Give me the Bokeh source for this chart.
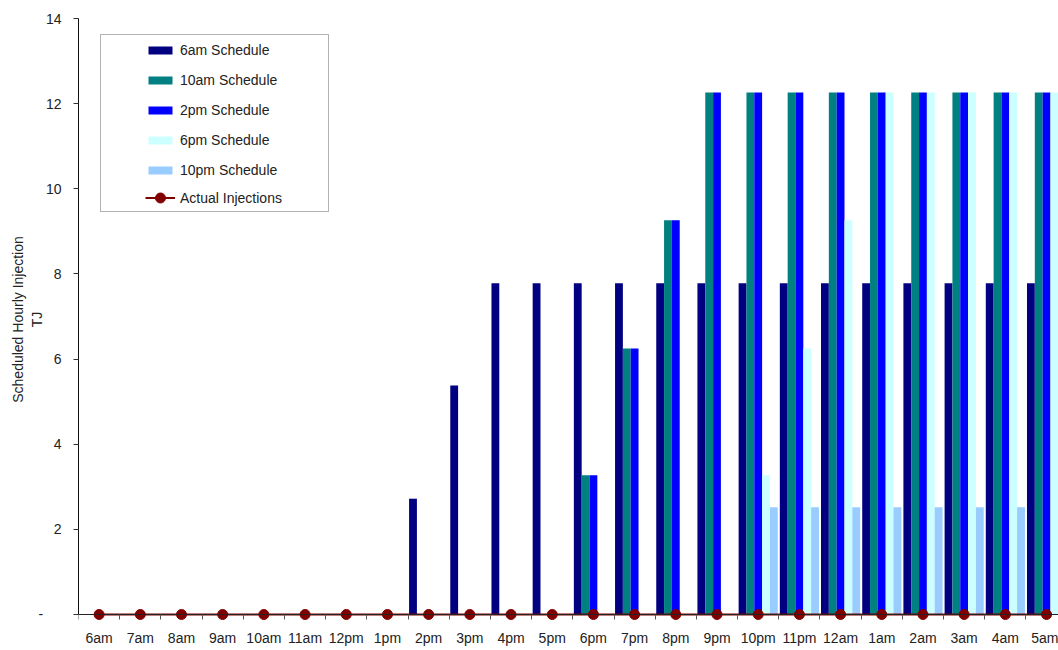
from bokeh.plotting import figure
from bokeh.models import (ColumnDataSource, FixedTicker, Range1d, Legend,
                          LegendItem, BoxAnnotation, LinearAxis)
from bokeh.transform import dodge
from bokeh.embed import file_html
from bokeh.resources import INLINE

# Hourly periods of the gas day
hours = ["6am", "7am", "8am", "9am", "10am", "11am", "12pm", "1pm", "2pm", "3pm",
         "4pm", "5pm", "6pm", "7pm", "8pm", "9pm", "10pm", "11pm", "12am", "1am",
         "2am", "3am", "4am", "5am"]

# Scheduled hourly injection (TJ) for each schedule run
sched_6am = [0, 0, 0, 0, 0, 0, 0, 0, 2.72, 5.38,
             7.78, 7.78, 7.78, 7.78, 7.78, 7.78, 7.78, 7.78, 7.78, 7.78,
             7.78, 7.78, 7.78, 7.78]
sched_10am = [0, 0, 0, 0, 0, 0, 0, 0, 0, 0,
              0, 0, 3.27, 6.25, 9.26, 12.26, 12.26, 12.26, 12.26, 12.26,
              12.26, 12.26, 12.26, 12.26]
sched_2pm = [0, 0, 0, 0, 0, 0, 0, 0, 0, 0,
             0, 0, 3.27, 6.25, 9.26, 12.26, 12.26, 12.26, 12.26, 12.26,
             12.26, 12.26, 12.26, 12.26]
sched_6pm = [0, 0, 0, 0, 0, 0, 0, 0, 0, 0,
             0, 0, 0, 0, 0, 0, 3.27, 6.25, 9.26, 12.26,
             12.26, 12.26, 12.26, 12.26]
sched_10pm = [0, 0, 0, 0, 0, 0, 0, 0, 0, 0,
              0, 0, 0, 0, 0, 0, 2.52, 2.52, 2.52, 2.52,
              2.52, 2.52, 2.52, 2.52]
actual = [0, 0, 0, 0, 0, 0, 0, 0, 0, 0,
          0, 0, 0, 0, 0, 0, 0, 0, 0, 0,
          0, 0, 0, 0]

y_ticks = [0, 2, 4, 6, 8, 10, 12, 14]

series = [
    ("s6am", sched_6am, "6am Schedule", "#000080"),
    ("s10am", sched_10am, "10am Schedule", "#008080"),
    ("s2pm", sched_2pm, "2pm Schedule", "#0000FF"),
    ("s6pm", sched_6pm, "6pm Schedule", "#CCFFFF"),
    ("s10pm", sched_10pm, "10pm Schedule", "#99CCFF"),
]

FONT = "Liberation Sans"
FSIZE = "14px"
TEXT_COLOR = "#222222"

centers = [i + 0.5 for i in range(len(hours))]
data = dict(x=centers, actual=actual)
for key, vals, _, _ in series:
    data[key] = vals
src = ColumnDataSource(data)

# y range dips slightly below zero so the zero-line markers are not clipped
p = figure(width=1058, height=650,
           x_range=Range1d(0, 23.79), y_range=Range1d(-0.141, 14),
           output_backend="svg", toolbar_location=None,
           min_border_left=78, min_border_right=0,
           min_border_top=18, min_border_bottom=30)
p.outline_line_color = None
p.background_fill_color = "white"
p.border_fill_color = "white"

bar_w = 0.19
offsets = [-0.38, -0.19, 0.0, 0.19, 0.38]
bar_items = []
for (key, _, label, color), off in zip(series, offsets):
    r = p.vbar(x=dodge("x", off, range=p.x_range), top=key, bottom=0,
               width=bar_w, source=src, fill_color=color, line_color=None)
    bar_items.append(LegendItem(label=label, renderers=[r]))

ln = p.line("x", "actual", source=src, line_color="#800000", line_width=2)
mk = p.scatter("x", "actual", source=src, size=10, marker="circle",
               fill_color="#800000", line_color="#800000")

# Category axis line and boundary ticks, pinned at zero
xax = p.xaxis[0]
xax.fixed_location = 0
xax.ticker = FixedTicker(ticks=centers, minor_ticks=list(range(len(hours) + 1)))
xax.major_label_text_alpha = 0
xax.major_tick_out = 0
xax.major_tick_in = 0
xax.minor_tick_out = 5
xax.minor_tick_in = 0
xax.minor_tick_line_color = "#555555"
xax.axis_line_color = "#222222"

# Hour labels at the category centres
hour_axis = LinearAxis(ticker=FixedTicker(ticks=centers),
                       major_label_overrides={c: h for c, h in zip(centers, hours)},
                       axis_line_color=None, major_tick_line_color=None,
                       minor_tick_line_color=None, major_tick_out=0,
                       major_tick_in=0, major_label_standoff=9,
                       major_label_text_font=FONT,
                       major_label_text_font_size=FSIZE,
                       major_label_text_color=TEXT_COLOR)
p.add_layout(hour_axis, "below")

p.yaxis.bounds = (0, 14)
p.yaxis.ticker = FixedTicker(ticks=y_ticks)
p.yaxis.major_label_overrides = {0: "-\u2007\u2007\u2009"}
p.yaxis.major_tick_out = 5
p.yaxis.major_tick_in = 0
p.yaxis.minor_tick_line_color = None
p.yaxis.major_tick_line_color = "#333333"
p.yaxis.axis_line_color = "#111111"
p.yaxis.major_label_standoff = 12
p.yaxis.major_label_text_font = FONT
p.yaxis.major_label_text_font_size = FSIZE
p.yaxis.major_label_text_color = TEXT_COLOR
p.yaxis.axis_label = "Scheduled Hourly Injection\nTJ"
p.yaxis.axis_label_text_font = FONT
p.yaxis.axis_label_text_font_size = FSIZE
p.yaxis.axis_label_text_font_style = "normal"
p.yaxis.axis_label_text_color = TEXT_COLOR
p.yaxis.axis_label_standoff = -10

p.xgrid.grid_line_color = None
p.ygrid.ticker = FixedTicker(ticks=[14])
p.ygrid.grid_line_color = "#8c8c8c"
p.ygrid.grid_line_width = 2

# Legend frame and legend entries
frame_box = BoxAnnotation(left=100, right=328, top=34, bottom=211,
                          left_units="canvas", right_units="canvas",
                          top_units="canvas", bottom_units="canvas",
                          fill_color="white", fill_alpha=1.0,
                          line_color="black", line_width=1)
p.add_layout(frame_box)

legend_style = dict(padding=0, margin=0, spacing=10, label_height=20,
                    glyph_width=30, label_standoff=5, border_line_color=None,
                    background_fill_alpha=0, label_text_font=FONT,
                    label_text_font_size=FSIZE, label_text_color=TEXT_COLOR)

bar_legend = Legend(items=bar_items, location=(67, 440), glyph_height=10,
                    **legend_style)
p.add_layout(bar_legend, "center")

line_legend = Legend(items=[LegendItem(label="Actual Injections", renderers=[ln, mk])],
                     location=(67, 410), glyph_height=25, **legend_style)
p.add_layout(line_legend, "center")

open("out.html", "w").write(file_html(p, INLINE))
